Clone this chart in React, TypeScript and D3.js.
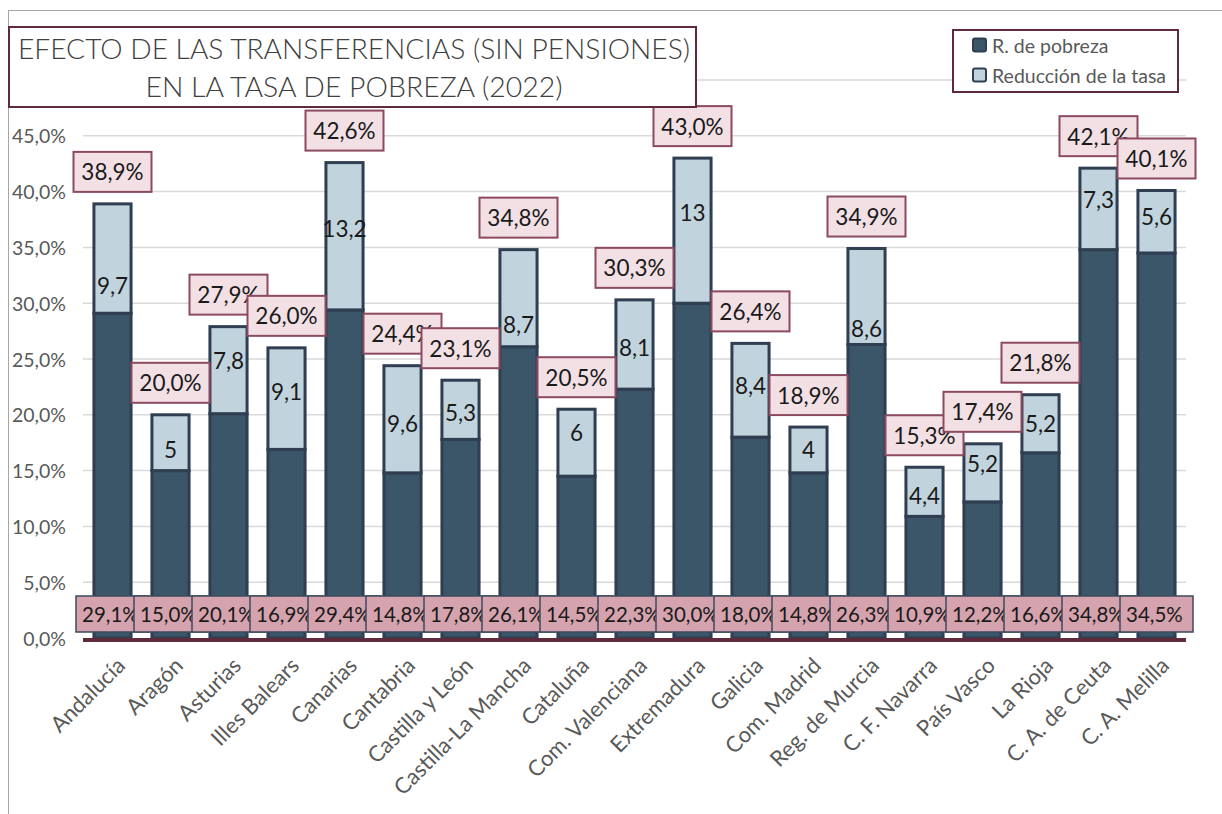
import React from "react";
import * as d3 from "d3";

const categories = ["Andalucía","Aragón","Asturias","Illes Balears","Canarias","Cantabria","Castilla y León","Castilla-La Mancha","Cataluña","Com. Valenciana","Extremadura","Galicia","Com. Madrid","Reg. de Murcia","C. F. Navarra","País Vasco","La Rioja","C. A. de Ceuta","C. A. Melilla"];
const pobreza = [29.1,15.0,20.1,16.9,29.4,14.8,17.8,26.1,14.5,22.3,30.0,18.0,14.8,26.3,10.9,12.2,16.6,34.8,34.5];
const reduccion = [9.7,5,7.8,9.1,13.2,9.6,5.3,8.7,6,8.1,13,8.4,4,8.6,4.4,5.2,5.2,7.3,5.6];
const totales = [38.9,20.0,27.9,26.0,42.6,24.4,23.1,34.8,20.5,30.3,43.0,26.4,18.9,34.9,15.3,17.4,21.8,42.1,40.1];
// value (in %) at which each "reducción" label sits
const reduccionLabelAt = [31.6,16.9,24.85,22.1,36.7,19.2,20.2,28.1,18.4,26.0,38.1,22.6,16.9,27.7,12.75,15.6,19.2,39.3,37.75];
const yTicks = [0,5,10,15,20,25,30,35,40,45,50];
const seriesNames = ["R. de pobreza","Reducción de la tasa"];
const titleLines = ["EFECTO  DE LAS TRANSFERENCIAS (SIN PENSIONES)","EN LA TASA DE POBREZA (2022)"];

const fmt = (v: number, dec = 1) => v.toFixed(dec).replace(".", ",");

const FONT = "Lato, 'Open Sans', sans-serif";
const DARK = "#3b5668";
const LIGHT = "#c1d4de";
const STROKE = "#2f3e50";
const MAROON = "#5e2a3c";

export default function App() {
  const W = 1222, H = 814;
  const x = d3.scaleBand<string>().domain(categories).range([83.5, 1185.5]).paddingInner(0.36).paddingOuter(0.18);
  const y = d3.scaleLinear().domain([0, 50]).range([638, 80]);
  const bw = x.bandwidth();
  const cx = (c: string) => (x(c) as number) + bw / 2;
  const boxW = 78, boxH = 40;
  const botW = 73, botH = 36;
  const titleWidths = [672, 417];

  return (
    <svg width={W} height={H} style={{ position: "absolute", left: 0, top: 0, background: "#fff" }} fontFamily={FONT}>
      <rect x={0} y={0} width={W} height={H} fill="#fff" />
      {/* chart frame */}
      <line x1={8} x2={W} y1={10.5} y2={10.5} stroke="#a6a6a6" strokeWidth={1} />
      <line x1={8.5} x2={8.5} y1={10} y2={H} stroke="#a6a6a6" strokeWidth={1} />

      {/* gridlines */}
      {yTicks.filter(t => t > 0).map(t => (
        <line key={t} x1={83} x2={1186} y1={y(t)} y2={y(t)} stroke="#d9d9d9" strokeWidth={1.5} />
      ))}
      {/* y labels */}
      {yTicks.map(t => (
        <text key={t} x={66} y={y(t)} textAnchor="end" dominantBaseline="central" fontSize={19.5} fill="#595959">
          {fmt(t) + "%"}
        </text>
      ))}

      {/* bars */}
      {categories.map((c, i) => (
        <g key={c}>
          <rect x={x(c)} y={y(pobreza[i])} width={bw} height={y(0) - y(pobreza[i])} fill={DARK} stroke={STROKE} strokeWidth={3} />
          <rect x={x(c)} y={y(totales[i])} width={bw} height={y(pobreza[i]) - y(totales[i])} fill={LIGHT} stroke={STROKE} strokeWidth={3} />
        </g>
      ))}

      {/* axis line */}
      <line x1={83} x2={1186} y1={640} y2={640} stroke={MAROON} strokeWidth={4} />

      {/* reduction labels */}
      {categories.map((c, i) => (
        <text key={c} x={cx(c)} y={y(reduccionLabelAt[i])} textAnchor="middle" dominantBaseline="central" fontSize={22.5} fill="#1a1a1a">
          {fmt(reduccion[i], reduccion[i] % 1 === 0 ? 0 : 1)}
        </text>
      ))}

      {/* bottom (pobreza) labels */}
      {categories.map((c, i) => (
        <g key={c}>
          <rect x={cx(c) - botW / 2} y={596} width={botW} height={botH} fill="#d4a3ae" stroke="#3d4b5d" strokeWidth={1.5} />
          <text x={cx(c) - botW / 2 + 6} y={614} dominantBaseline="central" fontSize={20.5} fill="#1a1a1a">
            {fmt(pobreza[i]) + "%"}
          </text>
        </g>
      ))}

      {/* top (total) labels */}
      {categories.map((c, i) => (
        <g key={c}>
          <rect x={cx(c) - boxW / 2} y={y(totales[i]) - 12 - boxH} width={boxW} height={boxH} fill="#f2e0e5" stroke="#8c4a60" strokeWidth={2} />
          <text x={cx(c)} y={y(totales[i]) - 12 - boxH / 2} textAnchor="middle" dominantBaseline="central" fontSize={22.5} fill="#1a1a1a">
            {fmt(totales[i]) + "%"}
          </text>
        </g>
      ))}

      {/* x labels */}
      {categories.map(c => (
        <text key={c} transform={`translate(${cx(c) + 14},${667}) rotate(-45)`} textAnchor="end" fontSize={22} fill="#595959">
          {c}
        </text>
      ))}

      {/* title */}
      <rect x={9} y={27} width={687} height={80} fill="#fff" stroke={MAROON} strokeWidth={2} />
      {titleLines.map((t, i) => (
        <text key={i} x={354} y={48 + i * 38} textAnchor="middle" dominantBaseline="central" fontSize={28} fontWeight={300}
          fill="#404040" textLength={titleWidths[i]} lengthAdjust="spacingAndGlyphs">
          {t}
        </text>
      ))}

      {/* legend */}
      <rect x={953} y={30} width={225} height={62} fill="#fff" stroke={MAROON} strokeWidth={2} />
      {seriesNames.map((s, i) => (
        <g key={s}>
          <rect x={973} y={45 + i * 30 - 6.5} width={13} height={13} rx={2} fill={i === 0 ? DARK : LIGHT} stroke={STROKE} strokeWidth={2} />
          <text x={992} y={45 + i * 30} dominantBaseline="central" fontSize={19.5} fill="#595959">{s}</text>
        </g>
      ))}
    </svg>
  );
}
